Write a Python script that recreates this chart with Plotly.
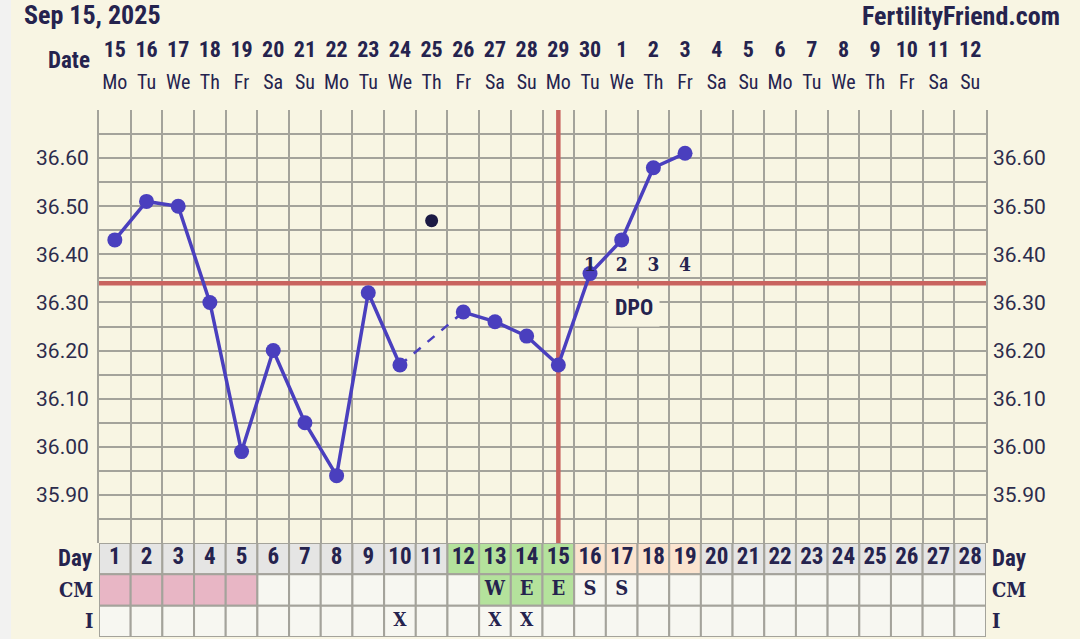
"""Fertility chart (BBT) for the cycle starting Sep 15, 2025."""

import plotly.graph_objects as go

CHART_DATE = "Sep 15, 2025"
SITE_NAME = "FertilityFriend.com"

# cycle days and calendar labels
CYCLE_DAYS = [1, 2, 3, 4, 5, 6, 7, 8, 9, 10, 11, 12, 13, 14,
              15, 16, 17, 18, 19, 20, 21, 22, 23, 24, 25, 26, 27, 28]
DATE_LABELS = ["15", "16", "17", "18", "19", "20", "21", "22", "23", "24", "25", "26", "27", "28",
               "29", "30", "1", "2", "3", "4", "5", "6", "7", "8", "9", "10", "11", "12"]
WEEKDAY_LABELS = ["Mo", "Tu", "We", "Th", "Fr", "Sa", "Su", "Mo", "Tu", "We", "Th", "Fr", "Sa", "Su",
                  "Mo", "Tu", "We", "Th", "Fr", "Sa", "Su", "Mo", "Tu", "We", "Th", "Fr", "Sa", "Su"]

# temperatures (°C) for days 1..19, None = discarded reading
TEMP_DAYS = [1, 2, 3, 4, 5, 6, 7, 8, 9, 10, 11, 12, 13, 14, 15, 16, 17, 18, 19]
TEMPS = [36.43, 36.51, 36.50, 36.30, 35.99, 36.20, 36.05, 35.94, 36.32, 36.17,
         None, 36.28, 36.26, 36.23, 36.17, 36.36, 36.43, 36.58, 36.61]
DISCARDED_DAYS = [11]
DISCARDED_TEMPS = [36.47]

COVERLINE = 36.34
OVULATION_DAY = 15
DPO_DAYS = [16, 17, 18, 19]
DPO_LABELS = ["1", "2", "3", "4"]

TEMP_RANGE = [35.80, 36.70]
TEMP_TICKS = [35.90, 36.00, 36.10, 36.20, 36.30, 36.40, 36.50, 36.60]
TEMP_TICK_LABELS = ["35.90", "36.00", "36.10", "36.20", "36.30", "36.40", "36.50", "36.60"]

# table rows
DAY_PHASE = ["", "", "", "", "", "", "", "", "", "", "",
             "fertile", "fertile", "fertile", "fertile",
             "luteal", "luteal", "luteal", "luteal",
             "", "", "", "", "", "", "", "", ""]
PERIOD_DAYS = [1, 2, 3, 4, 5]
CM_CODES = ["", "", "", "", "", "", "", "", "", "", "", "", "W", "E",
            "E", "S", "S", "", "", "", "", "", "", "", "", "", "", ""]
INTERCOURSE_DAYS = [10, 13, 14]

NAVY = "#25234e"
GRID = "#a4a39b"
BG = "#f8f5e3"
RED = "#c9645f"
LINE = "#4a3fbe"
CELL_COLORS = {"": "#e5e5e4", "fertile": "#b4e29c", "luteal": "#fbe4cf"}
PERIOD_COLOR = "#e8b6c5"
CM_FERTILE_COLOR = "#b4e29c"
WHITE_CELL = "#f7f7f1"

NARROW = "Liberation Sans Narrow, Roboto Condensed, Arial Narrow, Roboto, sans-serif"
SLAB = "DejaVu Serif Condensed, DejaVu Serif, serif"
SANS = "Roboto, sans-serif"

W, H = 1080, 639
PLOT_LEFT, PLOT_RIGHT = 99, 986
PLOT_TOP, PLOT_BOTTOM, TABLE_BOTTOM = 110, 543, 637


def frac(px):
    return 1 - px / H


def paper_x(px):
    return (px - PLOT_LEFT) / (PLOT_RIGHT - PLOT_LEFT)


fig = go.Figure()

# red coverline and ovulation line, drawn under the temperature marks
x_edges = [CYCLE_DAYS[0] - 0.5, CYCLE_DAYS[-1] + 0.5]
fig.add_trace(go.Scatter(
    x=x_edges, y=[COVERLINE, COVERLINE], mode="lines",
    line=dict(color=RED, width=4.5), hoverinfo="skip", showlegend=False,
))
fig.add_trace(go.Scatter(
    x=[OVULATION_DAY, OVULATION_DAY], y=TEMP_RANGE, mode="lines",
    line=dict(color=RED, width=4.5), hoverinfo="skip", showlegend=False,
))

# main temperature line, dashed across the discarded reading
for i, t in enumerate(TEMPS):
    if t is None and 0 < i < len(TEMPS) - 1:
        fig.add_trace(go.Scatter(
            x=[TEMP_DAYS[i - 1], TEMP_DAYS[i + 1]], y=[TEMPS[i - 1], TEMPS[i + 1]],
            mode="lines", line=dict(color=LINE, width=2.5, dash="dash"),
            hoverinfo="skip", showlegend=False,
        ))
fig.add_trace(go.Scatter(
    x=TEMP_DAYS, y=TEMPS, mode="lines+markers", connectgaps=False,
    line=dict(color=LINE, width=3.5), marker=dict(color=LINE, size=15),
    hoverinfo="x+y", showlegend=False,
))
fig.add_trace(go.Scatter(
    x=DISCARDED_DAYS, y=DISCARDED_TEMPS, mode="markers",
    marker=dict(color="#1c1a44", size=13), showlegend=False,
))

# DPO counters
fig.add_trace(go.Scatter(
    x=DPO_DAYS, y=[COVERLINE + 0.035] * len(DPO_DAYS), mode="text", text=DPO_LABELS,
    textfont=dict(family=SLAB, size=19, color=NAVY, weight="bold"),
    cliponaxis=False, hoverinfo="skip", showlegend=False,
))
fig.add_annotation(
    x=(DPO_DAYS[0] + DPO_DAYS[-1]) / 2 - 0.1, y=COVERLINE - 0.05, xref="x", yref="y",
    text="DPO", showarrow=False, bgcolor=BG, borderpad=6,
    font=dict(family=NARROW, size=22, color=NAVY, weight="bold"),
)

# right-hand temperature axis
fig.add_trace(go.Scatter(x=[None], y=[None], yaxis="y4", showlegend=False, hoverinfo="skip"))

# header: dates and weekdays
fig.add_trace(go.Scatter(
    x=CYCLE_DAYS, y=[51] * len(CYCLE_DAYS), xaxis="x3", yaxis="y3", mode="text",
    text=DATE_LABELS, textfont=dict(family=NARROW, size=22, color=NAVY, weight="bold"),
    cliponaxis=False, hoverinfo="skip", showlegend=False,
))
fig.add_trace(go.Scatter(
    x=CYCLE_DAYS, y=[84] * len(CYCLE_DAYS), xaxis="x3", yaxis="y3", mode="text",
    text=WEEKDAY_LABELS, textfont=dict(family=NARROW, size=20, color=NAVY),
    cliponaxis=False, hoverinfo="skip", showlegend=False,
))

# table: Day / CM / I rows
ROW_DAY, ROW_CM, ROW_I = 2, 1, 0
shapes = []
for k, day in enumerate(CYCLE_DAYS):
    cm = CM_CODES[k]
    if day in PERIOD_DAYS:
        cm_fill = PERIOD_COLOR
    elif cm in ("W", "E"):
        cm_fill = CM_FERTILE_COLOR
    else:
        cm_fill = WHITE_CELL
    for row, fill in ((ROW_DAY, CELL_COLORS[DAY_PHASE[k]]), (ROW_CM, cm_fill), (ROW_I, WHITE_CELL)):
        shapes.append(dict(
            type="rect", xref="x2", yref="y2", x0=day - 0.5, x1=day + 0.5, y0=row, y1=row + 1,
            fillcolor=fill, line=dict(color=GRID, width=2), layer="below",
        ))

fig.add_trace(go.Scatter(
    x=CYCLE_DAYS, y=[ROW_DAY + 0.5] * len(CYCLE_DAYS), xaxis="x2", yaxis="y2", mode="text",
    text=[str(d) for d in CYCLE_DAYS],
    textfont=dict(family=NARROW, size=23, color=NAVY, weight="bold"),
    cliponaxis=False, hoverinfo="skip", showlegend=False,
))
fig.add_trace(go.Scatter(
    x=CYCLE_DAYS, y=[ROW_CM + 0.5] * len(CYCLE_DAYS), xaxis="x2", yaxis="y2", mode="text",
    text=CM_CODES, textfont=dict(family=SLAB, size=20, color=NAVY, weight="bold"),
    cliponaxis=False, hoverinfo="skip", showlegend=False,
))
fig.add_trace(go.Scatter(
    x=INTERCOURSE_DAYS, y=[ROW_I + 0.5] * len(INTERCOURSE_DAYS), xaxis="x2", yaxis="y2",
    mode="text", text=["X"] * len(INTERCOURSE_DAYS),
    textfont=dict(family=SLAB, size=19, color=NAVY, weight="bold"),
    cliponaxis=False, hoverinfo="skip", showlegend=False,
))

# row headers
row_labels = [("Day", ROW_DAY, NARROW, 23), ("CM", ROW_CM, SLAB, 20), ("I", ROW_I, SLAB, 20)]
for label, row, family, size in row_labels:
    for side in ("left", "right"):
        fig.add_annotation(
            x=-0.004 if side == "left" else 1.004, xref="paper",
            xanchor="right" if side == "left" else "left",
            y=row + 0.5, yref="y2", text=label, showarrow=False,
            font=dict(family=family, size=size, color=NAVY, weight="bold"),
        )

fig.add_annotation(
    x=-0.008, xref="paper", xanchor="right", y=60, yref="y3", text="Date", showarrow=False,
    font=dict(family=NARROW, size=23, color=NAVY, weight="bold"),
)
fig.add_annotation(
    x=paper_x(22), xref="paper", xanchor="left", y=15, yref="y3", text=CHART_DATE,
    showarrow=False, font=dict(family=NARROW, size=26, color=NAVY, weight="bold"),
)
fig.add_annotation(
    x=paper_x(1062), xref="paper", xanchor="right", y=16, yref="y3", text=SITE_NAME,
    showarrow=False, font=dict(family=NARROW, size=26, color=NAVY, weight="bold"),
)

# light strip on the far left edge
shapes.append(dict(
    type="rect", xref="paper", yref="paper", x0=paper_x(0), x1=paper_x(11), y0=0, y1=1,
    fillcolor="#f2f2f1", line=dict(width=0), layer="below",
))

temp_axis = dict(
    range=TEMP_RANGE, tickvals=TEMP_TICKS, ticktext=TEMP_TICK_LABELS,
    tickfont=dict(family=SANS, size=21, color="#2d2c4c"), ticks="", zeroline=False,
)

fig.update_layout(
    width=W, height=H, margin=dict(l=PLOT_LEFT, r=W - PLOT_RIGHT, t=0, b=0),
    paper_bgcolor=BG, plot_bgcolor=BG, showlegend=False,
    shapes=shapes,
    xaxis=dict(
        range=x_edges, anchor="y", tick0=0.5, dtick=1, showgrid=True,
        gridcolor=GRID, gridwidth=2, showticklabels=False, ticks="", zeroline=False,
    ),
    xaxis2=dict(matches="x", anchor="y2", visible=False),
    xaxis3=dict(matches="x", anchor="y3", visible=False),
    yaxis=dict(
        **temp_axis, domain=[frac(PLOT_BOTTOM), frac(PLOT_TOP)], anchor="x",
        showgrid=True, gridcolor=GRID, gridwidth=2,
        minor=dict(tick0=35.80, dtick=0.05, showgrid=True, gridcolor=GRID, gridwidth=2, ticks=""),
        showline=True, linecolor=GRID, linewidth=2, mirror=True, ticklabelstandoff=4,
    ),
    yaxis4=dict(
        **temp_axis, overlaying="y", side="right", anchor="x", showgrid=False,
        ticklabelstandoff=6,
    ),
    yaxis2=dict(domain=[frac(TABLE_BOTTOM), frac(PLOT_BOTTOM)], range=[0, 3], anchor="x2",
                visible=False),
    yaxis3=dict(domain=[frac(PLOT_TOP), 1], range=[PLOT_TOP, 0], anchor="x3", visible=False),
)

# the page adds a default body margin; drop it so the figure sits at the window's corner
fig.write_html(
    "out.html",
    config={"displayModeBar": False},
    post_script="document.body.style.margin = '0';",
)
